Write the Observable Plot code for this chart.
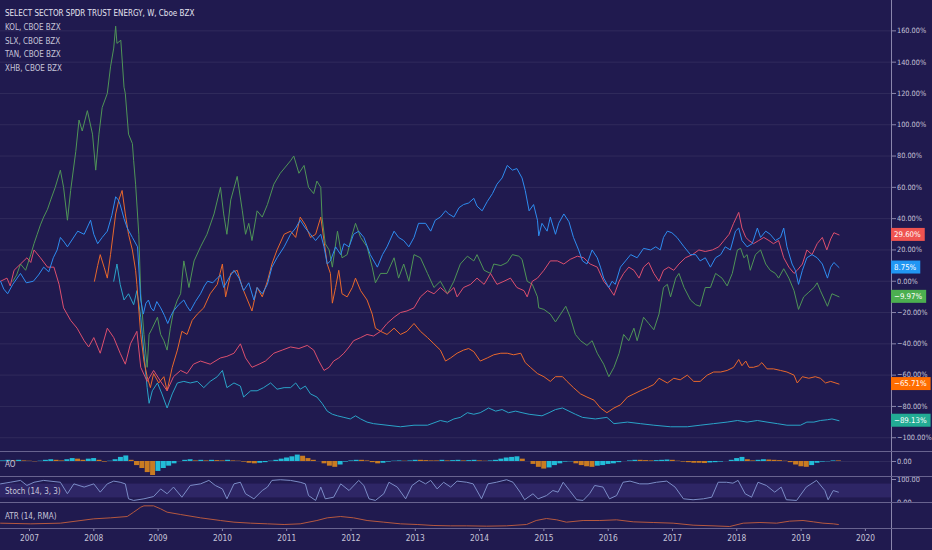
<!DOCTYPE html>
<html><head><meta charset="utf-8">
<script src="https://cdn.jsdelivr.net/npm/d3@7"></script>
<script src="https://cdn.jsdelivr.net/npm/@observablehq/plot@0.6"></script>
<style>
html,body{margin:0;padding:0;background:#201a4f;}
#wrap{position:relative;width:932px;height:550px;background:#201a4f;overflow:hidden;font-family:"Liberation Sans Narrow","DejaVu Sans Condensed","Liberation Sans",sans-serif;}
.pane{position:absolute;left:0;width:932px;overflow:hidden;}
.sep{position:absolute;left:0;width:932px;height:1px;background:#68638f;}
.vax{position:absolute;left:891px;top:0;width:1px;height:550px;background:#8a86ac;}
.lg{position:absolute;left:5px;font-size:8px;line-height:12px;color:#c6c4d8;white-space:nowrap;}
</style></head>
<body><div id="wrap"></div>
<script>
// ---------- DATA (decimal year, % change) ----------
const seriesNames = ["SELECT SECTOR SPDR TRUST ENERGY, W, Cboe BZX","KOL, CBOE BZX","SLX, CBOE BZX","TAN, CBOE BZX","XHB, CBOE BZX"];

const xle = [[2006.55,0],[2006.60,-5],[2006.66,-8],[2006.74,-2],[2006.86,5],[2006.95,-1],[2007.06,0],[2007.14,4],[2007.22,9],[2007.30,6],[2007.37,15],[2007.43,20],[2007.48,28],[2007.54,25],[2007.59,22],[2007.67,27],[2007.75,32],[2007.85,30],[2007.95,39],[2008.00,30],[2008.06,24],[2008.13,28],[2008.21,32],[2008.28,42],[2008.34,54],[2008.38,52],[2008.41,49],[2008.47,40],[2008.52,34],[2008.60,28],[2008.68,22],[2008.73,-12],[2008.77,-21],[2008.81,-14],[2008.85,-12],[2008.89,-17],[2008.93,-19],[2008.98,-13],[2009.04,-17],[2009.10,-22],[2009.15,-27],[2009.20,-22],[2009.24,-19],[2009.32,-15],[2009.40,-12],[2009.45,-16],[2009.50,-19],[2009.58,-13],[2009.66,-8],[2009.72,-3],[2009.77,0],[2009.85,-1],[2009.92,2],[2009.97,4],[2010.02,-4],[2010.10,2],[2010.18,7],[2010.26,2],[2010.33,-6],[2010.41,-1],[2010.49,-12],[2010.54,-4],[2010.62,-8],[2010.70,-2],[2010.77,9],[2010.85,15],[2010.96,22],[2011.06,30],[2011.14,34],[2011.21,39],[2011.29,34],[2011.37,30],[2011.45,26],[2011.53,30],[2011.58,22],[2011.63,11],[2011.68,13],[2011.76,22],[2011.84,17],[2011.89,24],[2011.97,22],[2012.04,30],[2012.12,32],[2012.20,28],[2012.30,17],[2012.41,9],[2012.49,17],[2012.56,22],[2012.67,32],[2012.74,28],[2012.82,26],[2012.90,22],[2012.98,28],[2013.05,37],[2013.16,37],[2013.24,32],[2013.31,39],[2013.39,41],[2013.47,45],[2013.52,43],[2013.60,41],[2013.68,47],[2013.75,49],[2013.83,50],[2013.91,53],[2013.96,48],[2014.04,45],[2014.12,51],[2014.20,56],[2014.27,62],[2014.35,66],[2014.43,74],[2014.51,71],[2014.58,72],[2014.66,66],[2014.71,58],[2014.77,45],[2014.84,49],[2014.90,39],[2014.92,29],[2014.97,37],[2015.05,32],[2015.10,41],[2015.18,30],[2015.23,37],[2015.31,43],[2015.39,38],[2015.46,28],[2015.54,20],[2015.60,13],[2015.67,11],[2015.75,20],[2015.83,15],[2015.88,9],[2015.93,2],[2016.01,-4],[2016.06,0],[2016.11,-2],[2016.19,9],[2016.27,13],[2016.35,17],[2016.45,15],[2016.55,21],[2016.66,20],[2016.74,22],[2016.81,20],[2016.86,28],[2016.92,32],[2016.99,31],[2017.07,28],[2017.18,22],[2017.28,17],[2017.36,17],[2017.43,13],[2017.51,15],[2017.59,9],[2017.67,15],[2017.75,17],[2017.82,22],[2017.90,20],[2017.98,32],[2018.03,34],[2018.08,26],[2018.16,22],[2018.24,24],[2018.32,34],[2018.37,28],[2018.45,32],[2018.52,30],[2018.60,26],[2018.68,28],[2018.73,34],[2018.78,22],[2018.86,11],[2018.91,7],[2018.96,-2],[2019.02,7],[2019.09,15],[2019.17,17],[2019.25,15],[2019.33,11],[2019.41,2],[2019.46,9],[2019.51,12],[2019.59,8.75]];

const slx = [[2006.74,0],[2006.80,4],[2006.86,11],[2006.94,7],[2007.02,17],[2007.07,24],[2007.12,30],[2007.17,36],[2007.22,41],[2007.28,46],[2007.33,52],[2007.40,60],[2007.48,71],[2007.53,60],[2007.59,39],[2007.64,58],[2007.72,83],[2007.77,103],[2007.82,96],[2007.90,109],[2007.98,94],[2008.03,71],[2008.08,94],[2008.13,111],[2008.21,120],[2008.26,137],[2008.31,149],[2008.34,163],[2008.36,152],[2008.42,154],[2008.47,124],[2008.49,120],[2008.54,94],[2008.60,88],[2008.62,77],[2008.65,62],[2008.70,30],[2008.73,-8],[2008.78,-34],[2008.83,-55],[2008.86,-34],[2008.91,-30],[2008.99,-23],[2009.04,-34],[2009.09,-38],[2009.14,-44],[2009.19,-30],[2009.24,-19],[2009.30,-12],[2009.35,-8],[2009.40,13],[2009.48,-4],[2009.56,13],[2009.66,22],[2009.76,30],[2009.87,43],[2009.97,60],[2010.02,43],[2010.07,30],[2010.13,52],[2010.23,67],[2010.31,45],[2010.36,30],[2010.41,37],[2010.46,26],[2010.54,45],[2010.62,41],[2010.70,49],[2010.80,62],[2010.90,69],[2010.98,73],[2011.06,77],[2011.11,80],[2011.19,69],[2011.27,74],[2011.34,60],[2011.42,56],[2011.47,64],[2011.53,60],[2011.55,41],[2011.60,24],[2011.66,20],[2011.71,9],[2011.79,32],[2011.86,15],[2011.94,17],[2012.02,30],[2012.07,37],[2012.15,28],[2012.25,22],[2012.33,9],[2012.38,-1],[2012.46,5],[2012.56,5],[2012.67,15],[2012.74,2],[2012.82,11],[2012.90,0],[2012.98,17],[2013.08,15],[2013.19,5],[2013.29,-4],[2013.39,0],[2013.50,-8],[2013.60,0],[2013.70,11],[2013.81,16],[2013.91,13],[2013.96,17],[2014.07,7],[2014.17,5],[2014.22,11],[2014.33,10],[2014.43,12],[2014.51,17],[2014.61,16],[2014.66,14],[2014.74,0],[2014.82,-2],[2014.90,-10],[2014.92,-17],[2015.00,-18],[2015.10,-21],[2015.18,-26],[2015.26,-21],[2015.34,-16],[2015.41,-23],[2015.49,-34],[2015.57,-38],[2015.67,-41],[2015.75,-38],[2015.83,-46],[2015.93,-53],[2016.01,-61],[2016.09,-55],[2016.17,-46],[2016.24,-34],[2016.32,-38],[2016.40,-30],[2016.45,-38],[2016.55,-23],[2016.63,-27],[2016.71,-31],[2016.79,-21],[2016.86,-4],[2016.92,-2],[2016.97,-10],[2017.05,2],[2017.10,5],[2017.18,-4],[2017.28,-12],[2017.36,-15],[2017.43,-16],[2017.51,-4],[2017.59,-4],[2017.67,5],[2017.77,2],[2017.85,-3],[2017.93,5],[2018.01,20],[2018.06,21],[2018.11,15],[2018.16,17],[2018.21,7],[2018.29,17],[2018.37,20],[2018.45,11],[2018.52,7],[2018.60,5],[2018.65,2],[2018.73,8],[2018.81,2],[2018.89,-6],[2018.96,-18],[2019.04,-10],[2019.12,-7],[2019.20,-4],[2019.25,-1],[2019.30,-6],[2019.41,-16],[2019.48,-8],[2019.59,-9.97]];

const xhb = [[2006.55,0],[2006.65,2],[2006.70,-3],[2006.76,7],[2006.86,11],[2006.96,15],[2007.02,12],[2007.07,20],[2007.17,15],[2007.28,9],[2007.38,9],[2007.46,-2],[2007.53,-17],[2007.64,-25],[2007.74,-30],[2007.85,-38],[2007.92,-42],[2008.00,-36],[2008.10,-46],[2008.21,-30],[2008.31,-36],[2008.41,-46],[2008.49,-53],[2008.57,-40],[2008.67,-32],[2008.73,-55],[2008.83,-64],[2008.93,-57],[2009.04,-64],[2009.14,-70],[2009.24,-61],[2009.35,-57],[2009.45,-59],[2009.55,-53],[2009.66,-51],[2009.81,-53],[2009.97,-49],[2010.07,-48],[2010.18,-46],[2010.28,-40],[2010.36,-49],[2010.46,-55],[2010.57,-53],[2010.67,-51],[2010.80,-46],[2010.93,-44],[2011.06,-42],[2011.19,-43],[2011.32,-41],[2011.42,-44],[2011.50,-51],[2011.58,-57],[2011.66,-55],[2011.73,-51],[2011.81,-49],[2011.89,-46],[2011.97,-42],[2012.04,-38],[2012.15,-36],[2012.25,-34],[2012.35,-35],[2012.46,-32],[2012.56,-27],[2012.67,-23],[2012.77,-20],[2012.87,-19],[2012.98,-17],[2013.08,-10],[2013.19,-6],[2013.29,-8],[2013.39,-4],[2013.50,-8],[2013.60,-4],[2013.65,-10],[2013.75,-4],[2013.86,-2],[2013.96,2],[2014.07,-2],[2014.17,5],[2014.27,-2],[2014.38,0],[2014.48,2],[2014.58,-4],[2014.69,-6],[2014.74,-10],[2014.82,0],[2014.90,2],[2015.00,7],[2015.10,13],[2015.21,13],[2015.31,11],[2015.41,14],[2015.52,16],[2015.62,15],[2015.72,11],[2015.83,9],[2015.93,0],[2016.01,-4],[2016.09,-9],[2016.17,0],[2016.24,5],[2016.32,9],[2016.40,7],[2016.48,2],[2016.55,9],[2016.63,12],[2016.71,5],[2016.79,0],[2016.86,7],[2016.94,9],[2017.02,7],[2017.10,11],[2017.20,15],[2017.31,17],[2017.41,20],[2017.51,19],[2017.62,20],[2017.72,22],[2017.80,26],[2017.88,30],[2017.95,37],[2018.03,44],[2018.08,34],[2018.14,28],[2018.19,26],[2018.26,24],[2018.34,26],[2018.42,28],[2018.50,26],[2018.57,24],[2018.65,26],[2018.73,15],[2018.81,9],[2018.89,5],[2018.94,7],[2019.02,11],[2019.09,20],[2019.17,17],[2019.25,24],[2019.33,28],[2019.40,20],[2019.46,27],[2019.51,31],[2019.59,29.6]];

const kol = [[2008.01,0],[2008.06,10],[2008.10,17],[2008.16,9],[2008.21,2],[2008.26,17],[2008.34,43],[2008.39,52],[2008.44,58],[2008.49,43],[2008.54,30],[2008.60,20],[2008.65,7],[2008.67,-2],[2008.73,-34],[2008.78,-51],[2008.83,-61],[2008.88,-68],[2008.93,-59],[2009.01,-65],[2009.09,-61],[2009.14,-70],[2009.22,-55],[2009.30,-44],[2009.37,-32],[2009.45,-34],[2009.53,-25],[2009.61,-21],[2009.71,-17],[2009.81,-8],[2009.92,-2],[2010.00,11],[2010.05,-10],[2010.13,5],[2010.23,7],[2010.31,-4],[2010.39,-12],[2010.46,-19],[2010.54,-4],[2010.62,-10],[2010.70,0],[2010.77,11],[2010.85,20],[2010.96,30],[2011.06,32],[2011.14,28],[2011.21,41],[2011.29,36],[2011.37,28],[2011.45,30],[2011.53,41],[2011.58,26],[2011.63,11],[2011.68,5],[2011.71,-14],[2011.76,-4],[2011.81,7],[2011.86,-8],[2011.94,-10],[2012.02,-4],[2012.07,2],[2012.15,-6],[2012.25,-12],[2012.33,-21],[2012.38,-30],[2012.46,-32],[2012.56,-34],[2012.67,-30],[2012.77,-34],[2012.87,-32],[2012.98,-27],[2013.08,-32],[2013.19,-36],[2013.29,-40],[2013.39,-44],[2013.47,-51],[2013.55,-49],[2013.65,-46],[2013.75,-44],[2013.83,-43],[2013.91,-45],[2014.01,-51],[2014.12,-49],[2014.22,-47],[2014.33,-46],[2014.43,-46],[2014.53,-47],[2014.64,-46],[2014.71,-52],[2014.79,-55],[2014.90,-59],[2015.00,-61],[2015.10,-64],[2015.18,-61],[2015.29,-61],[2015.36,-64],[2015.46,-68],[2015.57,-72],[2015.67,-74],[2015.78,-76],[2015.88,-81],[2015.98,-84],[2016.09,-81],[2016.19,-79],[2016.30,-74],[2016.40,-72],[2016.50,-70],[2016.61,-68],[2016.71,-66],[2016.79,-62],[2016.92,-65],[2017.02,-62],[2017.12,-63],[2017.23,-60],[2017.33,-64],[2017.43,-64],[2017.54,-60],[2017.64,-58],[2017.75,-58],[2017.85,-57],[2017.95,-55],[2018.03,-50],[2018.08,-54],[2018.14,-51],[2018.19,-55],[2018.26,-55],[2018.34,-54],[2018.39,-52],[2018.47,-56],[2018.57,-56],[2018.68,-57],[2018.78,-58],[2018.89,-60],[2018.94,-65],[2019.02,-61],[2019.12,-62],[2019.22,-61],[2019.30,-62],[2019.38,-65],[2019.46,-64],[2019.59,-65.71]];

const tan = [[2008.31,0],[2008.36,11],[2008.41,-2],[2008.47,-12],[2008.54,-8],[2008.62,-15],[2008.67,-6],[2008.73,-23],[2008.78,-46],[2008.83,-68],[2008.86,-78],[2008.91,-70],[2008.99,-65],[2009.06,-72],[2009.14,-81],[2009.22,-72],[2009.30,-65],[2009.40,-64],[2009.50,-65],[2009.61,-64],[2009.71,-68],[2009.81,-64],[2009.92,-61],[2010.00,-57],[2010.07,-68],[2010.18,-65],[2010.28,-67],[2010.33,-74],[2010.44,-70],[2010.54,-70],[2010.64,-68],[2010.75,-65],[2010.85,-69],[2010.96,-68],[2011.06,-68],[2011.14,-65],[2011.21,-69],[2011.29,-67],[2011.37,-72],[2011.47,-74],[2011.55,-78],[2011.63,-83],[2011.71,-85],[2011.79,-86],[2011.89,-87],[2011.99,-88],[2012.07,-86],[2012.15,-88],[2012.25,-90],[2012.35,-91],[2012.56,-92],[2012.77,-93],[2012.98,-92],[2013.19,-92],[2013.39,-89],[2013.50,-90],[2013.60,-88],[2013.70,-87],[2013.81,-84],[2013.91,-85],[2014.01,-84],[2014.14,-81],[2014.25,-83],[2014.35,-82],[2014.45,-84],[2014.56,-83],[2014.66,-84],[2014.77,-85],[2014.97,-86],[2015.08,-84],[2015.18,-82],[2015.29,-81],[2015.39,-83],[2015.49,-85],[2015.60,-87],[2015.80,-88],[2015.98,-87],[2016.09,-91],[2016.30,-90],[2016.50,-91],[2016.71,-92],[2016.97,-93],[2017.23,-93],[2017.43,-92],[2017.64,-91],[2017.85,-90],[2018.01,-89],[2018.16,-90],[2018.32,-89],[2018.47,-90],[2018.63,-91],[2018.78,-92],[2018.99,-92],[2019.09,-90],[2019.20,-90],[2019.30,-89],[2019.41,-88.5],[2019.48,-88],[2019.59,-89.13]];

// Awesome Oscillator, monthly bars starting at aoStart
const aoStart = 2006.55;
const aoValues = [1,2,1,2,1,0.5,-0.5,0.5,2,3, 2,1,3,5,4,2,4,5,2,-1, 0.5,3,7,9.5,2,-7,-12,-19,-24,-17, -12,-8,-4,0,2,3,1,2,1,2, 1.5,1,2,1,0.5,-1,-3,-4,-3,-2, 0.5,2,4,6,8,11,9,5,2,0, -4,-8,-10,-6,-1,1,2,2,1,-2, -4,-3,-1,0.5,1,0.5,1,2,2,1.5, 1,1,2,1,1.5,2,1,1.5,2,1, 0.5,1,2,4,6,7,8,4,0,-5, -10,-13,-11,-7,-4,-1,-0.5,-4,-7,-9, -10,-8,-7,-5,-4,-2,0,1,2,2, 1.5,1,1.5,2,2.5,2,0.5,-1,-2,-3, -3,-3.5,-2.5,-2,-1,0,2,5,7,3, 1,2,3,2.5,2,1.5,0.5,-2,-6,-9, -10,-7,-3,-1,-0.5,1,1];

// Stochastic %K
const stoch = [[2006.55,81],[2006.70,88],[2006.86,96],[2006.96,74],[2007.07,88],[2007.22,96],[2007.48,88],[2007.59,38],[2007.69,81],[2007.85,67],[2008.00,81],[2008.10,45],[2008.21,81],[2008.31,93],[2008.41,88],[2008.49,81],[2008.54,16],[2008.62,9],[2008.78,16],[2008.93,26],[2009.04,59],[2009.14,38],[2009.24,67],[2009.37,23],[2009.50,74],[2009.66,81],[2009.79,96],[2009.89,74],[2010.00,59],[2010.07,16],[2010.18,81],[2010.28,88],[2010.36,38],[2010.49,16],[2010.62,52],[2010.70,67],[2010.77,96],[2010.90,99],[2011.06,96],[2011.21,88],[2011.29,81],[2011.34,30],[2011.45,9],[2011.53,67],[2011.60,16],[2011.73,23],[2011.84,81],[2011.97,52],[2012.12,96],[2012.20,74],[2012.28,16],[2012.38,9],[2012.51,38],[2012.59,88],[2012.72,67],[2012.85,16],[2012.95,74],[2013.06,96],[2013.16,81],[2013.24,96],[2013.34,59],[2013.44,88],[2013.55,67],[2013.65,93],[2013.80,88],[2013.90,81],[2014.03,16],[2014.13,81],[2014.26,88],[2014.42,99],[2014.52,88],[2014.63,45],[2014.70,12],[2014.83,38],[2014.91,16],[2015.04,30],[2015.14,52],[2015.22,45],[2015.30,88],[2015.40,52],[2015.51,12],[2015.61,9],[2015.71,38],[2015.79,74],[2015.92,67],[2016.02,16],[2016.13,30],[2016.23,88],[2016.34,93],[2016.49,81],[2016.62,81],[2016.75,88],[2016.91,93],[2017.04,67],[2017.17,16],[2017.32,12],[2017.48,16],[2017.61,23],[2017.71,88],[2017.84,88],[2017.94,84],[2018.02,96],[2018.13,38],[2018.23,23],[2018.33,88],[2018.46,74],[2018.59,45],[2018.69,67],[2018.77,12],[2018.93,9],[2019.08,67],[2019.24,96],[2019.37,52],[2019.42,12],[2019.50,52],[2019.58,45]];

// ATR(14, RMA)
const atr = [[2006.55,3.3],[2007.02,3.0],[2007.48,3.3],[2008.00,5.25],[2008.26,5.7],[2008.52,6.3],[2008.62,8.25],[2008.73,10.5],[2008.78,11.1],[2008.93,11.1],[2009.04,9.75],[2009.14,8.25],[2009.35,7.2],[2009.66,5.7],[2009.97,4.5],[2010.18,3.75],[2010.44,3.3],[2010.70,3.0],[2010.96,2.7],[2011.21,3.0],[2011.47,4.5],[2011.63,5.7],[2011.84,6.3],[2012.04,5.7],[2012.25,4.5],[2012.51,3.75],[2012.77,3.0],[2013.03,2.7],[2013.29,2.25],[2013.55,2.1],[2013.80,2.1],[2014.11,1.95],[2014.42,2.1],[2014.73,2.7],[2014.88,4.5],[2015.04,5.4],[2015.20,4.8],[2015.35,3.75],[2015.61,4.5],[2015.87,4.5],[2016.13,4.8],[2016.39,3.9],[2016.70,3.6],[2017.01,3.3],[2017.32,2.4],[2017.63,2.1],[2017.89,1.8],[2018.10,3.3],[2018.36,3.6],[2018.62,3.3],[2018.82,4.2],[2019.03,4.5],[2019.19,3.9],[2019.34,3.3],[2019.50,3.0],[2019.58,2.7]];

const pctTicks = [-100,-80,-60,-40,-20,0,20,40,60,80,100,120,140,160];
const yearTicks = [2007,2008,2009,2010,2011,2012,2013,2014,2015,2016,2017,2018,2019,2020];
const xDomain = [2006.549, 2020.406];
const stochBand = [20, 80];

// ---------- RENDER ----------
const W = 932, MR = 41;
const FONT = '"Liberation Sans Narrow","DejaVu Sans Condensed","Liberation Sans",sans-serif';
const FS = 7.3;
const TXT = "#c6c4d8", AXC = "#8a86ac";
const style = {background: "transparent", color: TXT, fontFamily: FONT, fontSize: FS + "px", overflow: "visible"};
const rows = arr => arr.map(([t, v]) => ({t, v}));
const minus = s => s.replace("-", "\u2212");
const fmtPct = d => minus(d.toFixed(2) + "%");

const colors = {xle: "#2e8cf0", xhb: "#dc4f6e", slx: "#4f9457", kol: "#e9682c", tan: "#2aa3c8"};
const boxColors = {xle: "#2196f3", xhb: "#ef5350", slx: "#4caf50", kol: "#ff6d00", tan: "#22ab94"};

const wrap = document.getElementById("wrap");
const vax = document.createElement("div"); vax.className = "vax"; wrap.appendChild(vax);

function pane(top, h, node) {
  const d = document.createElement("div");
  d.className = "pane"; d.style.top = top + "px"; d.style.height = h + "px";
  d.appendChild(node); wrap.appendChild(d); return d;
}
const yAxis = (ticks, fmt) => Plot.axisY(ticks, {anchor: "right", tickSize: 4, tickPadding: 1.5, tickFormat: fmt, stroke: AXC, fontSize: FS, label: null});

const lineOpts = c => ({x: "t", y: "v", stroke: c, strokeWidth: 1, clip: true});
const main = Plot.plot({
  width: W, height: 451, marginLeft: 0, marginRight: MR, marginTop: 0, marginBottom: 0,
  style,
  x: {domain: xDomain, axis: null},
  y: {domain: [-108.8, 179.4], axis: null},
  marks: [
    Plot.gridY(pctTicks, {stroke: "#ffffff", strokeOpacity: 0.075}),
    yAxis(pctTicks, fmtPct),
    Plot.line(rows(tan), lineOpts(colors.tan)),
    Plot.line(rows(kol), lineOpts(colors.kol)),
    Plot.line(rows(slx), lineOpts(colors.slx)),
    Plot.line(rows(xhb), lineOpts(colors.xhb)),
    Plot.line(rows(xle), lineOpts(colors.xle))
  ]
});
pane(0, 451, main);

// last-value labels on the price scale
{
  const ys = main.scale("y");
  const g = d3.select(main).append("g").attr("font-family", FONT).attr("font-size", 7.8).attr("text-anchor", "start");
  [["xhb", xhb], ["xle", xle], ["slx", slx], ["kol", kol], ["tan", tan]].forEach(([k, arr]) => {
    const v = arr[arr.length - 1][1];
    const y = ys.apply(v);
    const r = g.append("rect").attr("x", W - MR).attr("y", y - 6.5).attr("height", 13).attr("fill", boxColors[k]);
    const t = g.append("text").attr("x", W - MR + 3).attr("y", y).attr("dy", "0.35em").attr("fill", "#ffffff").attr("text-anchor", "start").text(fmtPct(v));
    r.attr("width", t.node().getComputedTextLength() + 7);
  });
}

// AO pane
const aoRows = aoValues.map((v, i) => ({t: aoStart + i / 12, t2: aoStart + (i + 1) / 12, v, up: i === 0 ? v >= 0 : v > aoValues[i - 1]}));
const ao = Plot.plot({
  width: W, height: 24, marginLeft: 0, marginRight: MR, marginTop: 0, marginBottom: 0,
  style,
  x: {domain: xDomain, axis: null},
  y: {domain: [-25.7, 15.4], axis: null},
  marks: [
    Plot.ruleY([0], {stroke: "#ffffff", strokeOpacity: 0.08}),
    Plot.rect(aoRows, {x1: "t", x2: "t2", y1: 0, y2: "v", fill: d => d.up ? "#22bcd8" : "#c97b22", insetRight: 0.4}),
    yAxis([0], d => d.toFixed(2))
  ]
});
pane(452, 24, ao);

// Stoch pane
const st = Plot.plot({
  width: W, height: 25, marginLeft: 0, marginRight: MR, marginTop: 0, marginBottom: 0,
  style,
  x: {domain: xDomain, axis: null},
  y: {domain: [0, 108.7], axis: null},
  marks: [
    Plot.rect([stochBand], {x1: xDomain[0], x2: xDomain[1], y1: d => d[0], y2: d => d[1], fill: "#7e6ae0", fillOpacity: 0.16}),
    Plot.line(rows(stoch), {x: "t", y: "v", stroke: "#7b8cc6", strokeWidth: 1, clip: true}),
    yAxis([0, 100], d => d.toFixed(2))
  ]
});
pane(477, 25, st);

// ATR pane + time axis
const at = Plot.plot({
  width: W, height: 47, marginLeft: 0, marginRight: MR, marginTop: 0, marginBottom: 22,
  style,
  x: {domain: xDomain, axis: null},
  y: {domain: [0.9, 12.15], axis: null},
  marks: [
    Plot.line(rows(atr), {x: "t", y: "v", stroke: "#b5583f", strokeWidth: 1, clip: true}),
    Plot.axisX(yearTicks, {anchor: "bottom", tickSize: 3, tickPadding: 4, tickFormat: d => String(d), stroke: AXC, fontSize: 8.3, label: null})
  ]
});
pane(503, 47, at);

// separators
[451, 476, 502, 528].forEach(y => {
  const s = document.createElement("div"); s.className = "sep"; s.style.top = y + "px"; wrap.appendChild(s);
});

// legend and pane titles
const legendTops = [8, 22, 35.5, 49, 63];
seriesNames.forEach((n, i) => {
  const d = document.createElement("div"); d.className = "lg";
  d.style.top = legendTops[i] + "px";
  if (i === 0) d.style.color = "#e4e3ef";
  d.textContent = n; wrap.appendChild(d);
});
[["AO", 459], ["Stoch (14, 3, 3)", 486], ["ATR (14, RMA)", 511]].forEach(([n, top]) => {
  const d = document.createElement("div"); d.className = "lg";
  d.style.top = top + "px"; d.textContent = n; wrap.appendChild(d);
});
</script>
</body></html>
